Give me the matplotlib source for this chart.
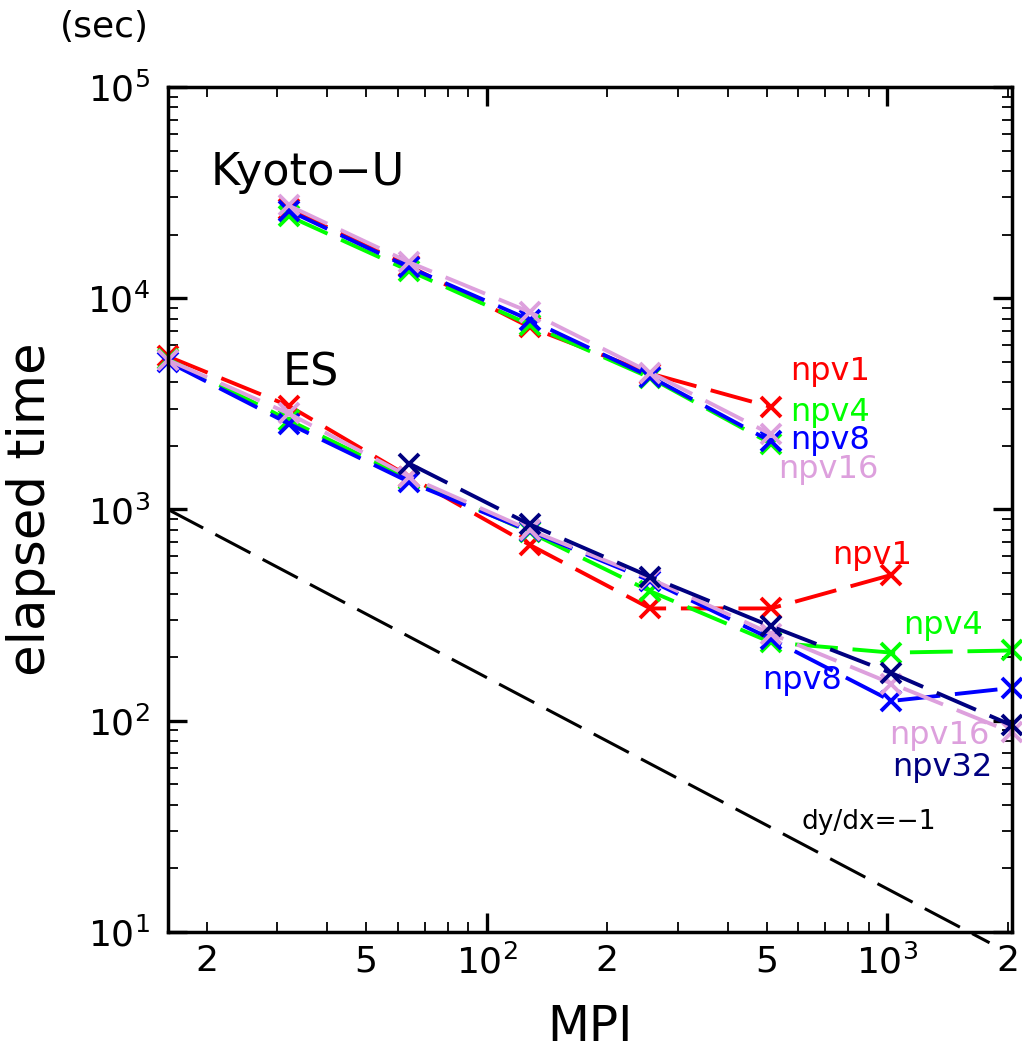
import matplotlib
matplotlib.use("Agg")
import matplotlib.pyplot as plt
import matplotlib.ticker as mticker
import numpy as np

plt.rcParams['font.family'] = ['DejaVu Sans']
plt.rcParams['mathtext.fontset'] = 'dejavusans'

# data
mpi_kyoto = [32, 64, 128, 256, 512]
kyoto_npv1 = [26500, 14200, 7300, 4400, 3060]
kyoto_npv4 = [24500, 13500, 7500, 4200, 2050]
kyoto_npv8 = [26000, 14000, 7900, 4250, 2100]
kyoto_npv16 = [27500, 14800, 8600, 4450, 2270]

mpi_es = [16, 32, 64, 128, 256, 512, 1024, 2048]
es_npv1 = [5300, 3100, 1430, 680, 340, 340, 490]
es_npv4 = [5150, 2650, 1400, 780, 410, 235, 210, 215]
es_npv8 = [5000, 2550, 1350, 790, 460, 244, 124, 143]
es_npv16 = [5100, 2850, 1430, 800, 470, 258, 150, 88]
es_npv32 = [1650, 850, 480, 280, 168, 95]

ref_x = np.array([16, 1800])
ref_y = 1000 * 16 / ref_x  # dy/dx = -1

colors = {'npv1': '#ff0000', 'npv4': '#00ff00', 'npv8': '#0000ff',
          'npv16': '#dda0dd', 'npv32': '#000080'}

fig = plt.figure(figsize=(10.22, 10.57), dpi=100)
ax = fig.add_axes([0.1644, 0.1183, 0.8258, 0.7994])
ax.set_xscale('log')
ax.set_yscale('log')

dash = (11, 3.8)
kw = dict(lw=2.8, marker='x', ms=15, mew=2.8, dashes=dash)

ax.plot(mpi_kyoto, kyoto_npv1, color=colors['npv1'], **kw)
ax.plot(mpi_kyoto, kyoto_npv4, color=colors['npv4'], **kw)
ax.plot(mpi_kyoto, kyoto_npv8, color=colors['npv8'], **kw)
ax.plot(mpi_kyoto, kyoto_npv16, color=colors['npv16'], **kw)

ax.plot(mpi_es[:len(es_npv1)], es_npv1, color=colors['npv1'], clip_on=False, **kw)
ax.plot(mpi_es, es_npv4, color=colors['npv4'], clip_on=False, **kw)
ax.plot(mpi_es, es_npv8, color=colors['npv8'], clip_on=False, **kw)
ax.plot(mpi_es, es_npv16, color=colors['npv16'], clip_on=False, **kw)
ax.plot(mpi_es[2:], es_npv32, color=colors['npv32'], clip_on=False, **kw)

ax.plot(ref_x, ref_y, color='black', lw=2.2, dashes=(13, 4.5), clip_on=False)

ax.set_xlim(16, 2048)
ax.set_ylim(10, 1e5)

# ticks
ax.xaxis.set_major_locator(mticker.LogLocator(base=10, numticks=10))
ax.xaxis.set_minor_locator(mticker.LogLocator(base=10, subs=np.arange(2, 10), numticks=10))
def minor_fmt(v, pos):
    m = v / 10 ** np.floor(np.log10(v) + 1e-9)
    m = round(m)
    return str(m) if m in (2, 5) else ''
ax.xaxis.set_minor_formatter(mticker.FuncFormatter(minor_fmt))
ax.yaxis.set_minor_locator(mticker.LogLocator(base=10, subs=np.arange(2, 10), numticks=10))
ax.yaxis.set_minor_formatter(mticker.NullFormatter())

ax.tick_params(which='both', direction='in', top=True, right=True, labelsize=26)
ax.tick_params(which='major', length=14, width=2.4)
ax.tick_params(which='minor', length=7, width=1.3)
ax.tick_params(axis='x', which='both', pad=9)
ax.tick_params(axis='y', which='both', pad=13)
for s in ax.spines.values():
    s.set_linewidth(2.5)

ax.set_xlabel('MPI', fontsize=35, labelpad=16)
ax.set_ylabel('elapsed time', fontsize=37, labelpad=22)
fig.text(0.102, 0.974, '(sec)', fontsize=26, ha='center', va='center')

# annotations
ax.text(0.050, 0.899, 'Kyoto\u2212U', fontsize=32, transform=ax.transAxes, va='center')
ax.text(0.136, 0.662, 'ES', fontsize=32, transform=ax.transAxes, va='center')

lab = dict(fontsize=23, transform=ax.transAxes, va='center')
ax.text(0.737, 0.663, 'npv1', color=colors['npv1'], **lab)
ax.text(0.737, 0.615, 'npv4', color=colors['npv4'], **lab)
ax.text(0.737, 0.582, 'npv8', color=colors['npv8'], **lab)
ax.text(0.723, 0.547, 'npv16', color=colors['npv16'], **lab)

ax.text(0.787, 0.446, 'npv1', color=colors['npv1'], **lab)
ax.text(0.871, 0.363, 'npv4', color=colors['npv4'], **lab)
ax.text(0.704, 0.298, 'npv8', color=colors['npv8'], **lab)
ax.text(0.855, 0.233, 'npv16', color=colors['npv16'], **lab)
ax.text(0.858, 0.195, 'npv32', color=colors['npv32'], **lab)

ax.text(0.751, 0.130, 'dy/dx=\u22121', fontsize=19, transform=ax.transAxes, va='center')

fig.savefig('out.png', dpi=100)
